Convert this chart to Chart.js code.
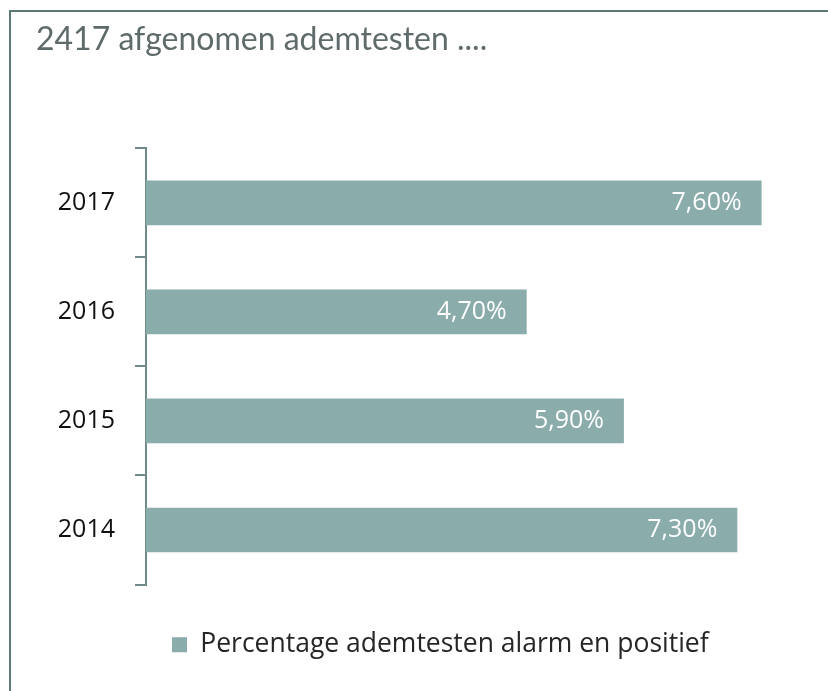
<!DOCTYPE html>
<html>
<head>
<meta charset="utf-8">
<script src="https://cdn.jsdelivr.net/npm/chart.js@4/dist/chart.umd.min.js"></script>
<style>
  html, body { margin: 0; padding: 0; background: #fff; }
  #frame {
    position: absolute; left: 9px; top: 10px;
    width: 817px; height: 679px;
    border-left: 2px solid #5f7a76; border-top: 2px solid #5f7a76;
  }
  #frame canvas { display: block; }
</style>
</head>
<body>
<div id="frame"><canvas id="ademChart" width="817" height="679"></canvas></div>
<script>
// gegevens uit de grafiek
var jaren = ["2017", "2016", "2015", "2014"];
var percentages = [7.6, 4.7, 5.9, 7.3];
var reeksNaam = "Percentage ademtesten alarm en positief";
var titel = "2417 afgenomen ademtesten ....";

var barKleur = "#8aacab";
var asKleur = "#6f8a88";

// waarden in de balk schrijven (7,60%)
var waardeLabels = {
    id: "waardeLabels",
    afterDatasetsDraw: function (chart) {
        var ctx = chart.ctx;
        var meta = chart.getDatasetMeta(0);
        ctx.save();
        ctx.font = "25px 'Open Sans'";
        ctx.fillStyle = "#ffffff";
        ctx.textAlign = "right";
        ctx.textBaseline = "middle";
        meta.data.forEach(function (bar, i) {
            var tekst = percentages[i].toFixed(2).replace(".", ",") + "%";
            ctx.fillText(tekst, bar.x - 20, bar.y);
        });
        ctx.restore();
    }
};

var ctx = document.getElementById("ademChart").getContext("2d");
var grafiek = new Chart(ctx, {
    type: "bar",
    data: {
        labels: jaren,
        datasets: [{
            label: reeksNaam,
            data: percentages,
            backgroundColor: barKleur,
            borderWidth: 0,
            categoryPercentage: 1,
            barPercentage: 0.41
        }]
    },
    options: {
        indexAxis: "y",
        responsive: false,
        animation: false,
        layout: { padding: { left: 25, right: 34, top: 0, bottom: 23 } },
        scales: {
            x: {
                min: 0,
                max: 8,
                ticks: { display: false },
                grid: { display: false },
                border: { display: false },
                afterFit: function (axis) { axis.height = 21; }
            },
            y: {
                ticks: {
                    color: "#111111",
                    font: { family: "'Open Sans'", size: 25 },
                    padding: 20
                },
                grid: {
                    offset: true,
                    drawOnChartArea: false,
                    drawTicks: true,
                    tickLength: 11,
                    color: asKleur,
                    lineWidth: 2
                },
                border: { display: true, color: asKleur, width: 2 },
                afterFit: function (axis) { axis.width = 110; }
            }
        },
        plugins: {
            title: {
                display: true,
                text: titel,
                align: "start",
                color: "#5f6a6a",
                font: { family: "Lato", size: 32, weight: "normal" },
                padding: { top: 8, bottom: 90 }
            },
            legend: {
                position: "bottom",
                align: "start",
                fullSize: false,
                labels: {
                    color: "#262626",
                    font: { family: "'Open Sans'", size: 26.5 },
                    boxWidth: 15,
                    boxHeight: 15,
                    padding: 26
                }
            },
            tooltip: { enabled: false }
        }
    },
    plugins: [waardeLabels]
});
</script>
</body>
</html>
